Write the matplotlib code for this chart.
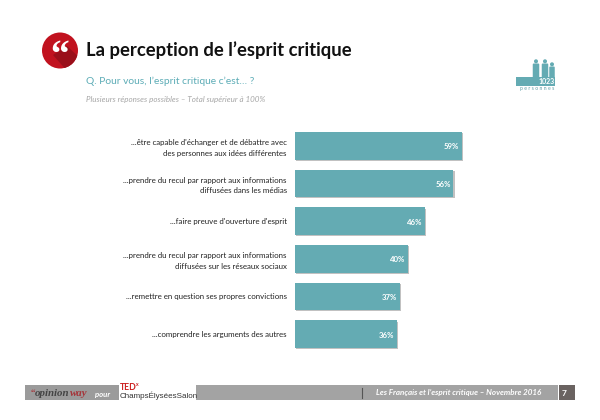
import matplotlib
matplotlib.use("Agg")
import matplotlib.pyplot as plt
import matplotlib.patheffects as pe
from matplotlib.patches import Circle, Rectangle, Polygon, FancyBboxPatch

plt.rcParams['font.family'] = ['Lato', 'DejaVu Sans']

labels = ["...être capable d'échanger et de débattre avec\ndes personnes aux idées différentes",
          "...prendre du recul par rapport aux informations\ndiffusées dans les médias",
          "...faire preuve d'ouverture d'esprit",
          "...prendre du recul par rapport aux informations\ndiffusées sur les réseaux sociaux",
          "...remettre en question ses propres convictions",
          "...comprendre les arguments des autres"]
values = [59, 56, 46, 40, 37, 36]

TEAL = '#64abb3'
W, H = 600, 420
fig = plt.figure(figsize=(6, 4.2), dpi=100, facecolor='white')

# Decorative layer in pixel coordinates
bg = fig.add_axes([0, 0, 1, 1])
bg.set_xlim(0, W); bg.set_ylim(H, 0); bg.axis('off')

# Quote badge
badge = Circle((60, 50.5), 18, fc='#c1121f', ec='none')
bg.add_patch(badge)
wedge = Polygon([(53, 55), (67, 46), (82, 60), (68, 72)], fc='#9a0f1a', ec='none', zorder=2)
bg.add_patch(wedge)
wedge.set_clip_path(badge)
bg.text(59.5, 56.5, "“", color='white', fontsize=27, fontweight='bold', family='Liberation Serif',
        ha='center', va='center', zorder=3)

# Titles
bg.text(85.5, 50, "La perception de l’esprit critique", fontsize=13.3, fontweight='bold',
        color='#111111', va='center', ha='left')
bg.text(85.5, 81.5, "Q. Pour vous, l’esprit critique c’est… ?", fontsize=7.4, color='#5cacb6',
        va='center', ha='left')
bg.text(85.5, 99.5, "Plusieurs réponses possibles – Total supérieur à 100%", fontsize=5.8,
        style='italic', color='#a6a6a6', va='center', ha='left')

# Respondent icon
bg.add_patch(Rectangle((516, 77), 39, 8.5, fc=TEAL, ec='none'))
for cx, top, bot, w in [(536, 63.5, 77, 6.5), (545, 63.5, 77, 6.5), (552, 66.5, 77, 5.5)]:
    bg.add_patch(FancyBboxPatch((cx - w / 2 + 1, top + 1), w - 2, bot - top - 1,
                                boxstyle="round,pad=1", fc=TEAL, ec='none'))
    bg.add_patch(Circle((cx, top - 2.2), 2.0, fc=TEAL, ec='none'))
bg.text(547, 81.3, "1023", fontsize=5, fontweight='bold', color='white', ha='center', va='center')
bg.text(537.5, 88.5, "p e r s o n n e s", fontsize=3.7, color='#5f9ea6', ha='center', va='center')

# Footer
bg.add_patch(Rectangle((25, 385), 94, 15, fc='#9b9b9b', ec='none'))
bg.add_patch(Rectangle((196, 385), 362, 15, fc='#a3a3a3', ec='none'))
bg.add_patch(Rectangle((559, 384.5), 16, 15.5, fc='#6a6361', ec='none'))
bg.text(30.5, 393, "“", fontsize=6.5, color='#a5353a', family='Liberation Serif', fontweight='bold', va='center')
bg.text(35, 394, "opinion", fontsize=7.8, color='#444444', family='Liberation Serif',
        fontweight='bold', style='italic', va='center')
bg.text(69.5, 394, "way", fontsize=7.8, color='#a5353a', family='Liberation Serif',
        fontweight='bold', style='italic', va='center')
bg.text(95, 394, "pour", fontsize=5.6, color='white', style='italic', fontweight='bold', va='center')
bg.text(120, 387.5, "TED", fontsize=6.2, color='#cc1f1f', fontweight='bold', va='center')
bg.text(135.8, 385, "x", fontsize=3.6, color='#cc1f1f', fontweight='bold', va='center')
bg.text(120, 395.8, "ChampsÉlyséesSalon", fontsize=5.8, color='#333333', va='center', family='Liberation Sans')
bg.plot([361.5, 361.5], [388, 398], color='#555555', lw=0.8)
bg.text(376, 393, "Les Français et l’esprit critique – Novembre 2016", fontsize=5.8, style='italic',
        fontweight='bold', color='white', va='center', ha='left')
bg.text(562, 393.5, "7", fontsize=6, fontweight='bold', color='white', va='center', ha='left')

# Bar chart
x0, x1 = 295, 495
y_top, y_bot = 127, 353
ax = fig.add_axes([x0 / W, 1 - y_bot / H, (x1 - x0) / W, (y_bot - y_top) / H])
ax.patch.set_alpha(0)
px_per_pct = 2.83
ax.set_xlim(0, (x1 - x0) / px_per_pct)
ypos = list(range(len(values)))
ax.set_ylim(len(values) - 0.5, -0.5)
bars = ax.barh(ypos, values, height=0.73, color=TEAL, edgecolor='none',
               path_effects=[pe.withSimplePatchShadow(offset=(0.8, -0.8), shadow_rgbFace='#666666', alpha=0.4)])
for y, v in zip(ypos, values):
    ax.text(v - 1.0, y + 0.03, f"{v}%", color='white', fontsize=5.6, fontweight='bold', ha='right', va='center')
ax.set_yticks(ypos)
ax.set_yticklabels(labels, fontsize=5.7, color='#222222', ha='right', linespacing=1.58)
ax.tick_params(axis='y', length=0, pad=6)
ax.set_xticks([])
for s in ax.spines.values():
    s.set_visible(False)

fig.savefig("out.png", dpi=100)
